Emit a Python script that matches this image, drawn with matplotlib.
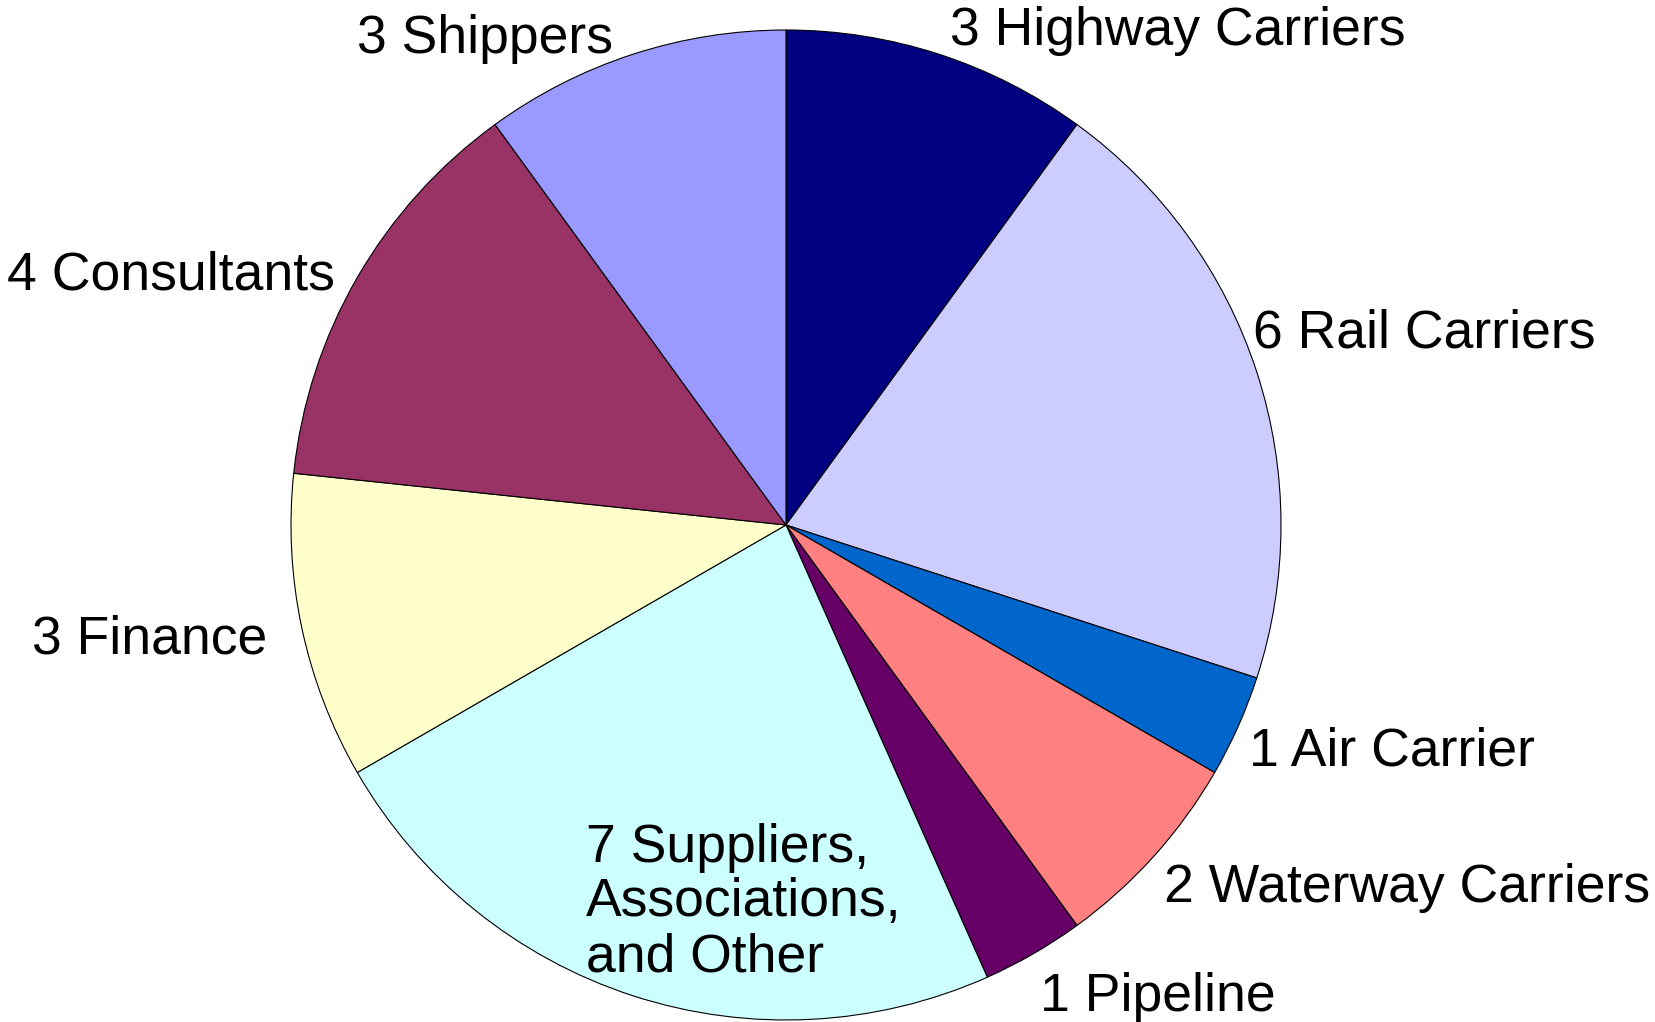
import matplotlib
matplotlib.use("Agg")
import matplotlib.pyplot as plt

labels = ["3 Highway Carriers", "6 Rail Carriers", "1 Air Carrier", "2 Waterway Carriers",
          "1 Pipeline", "7 Suppliers,\nAssociations,\nand Other", "3 Finance",
          "4 Consultants", "3 Shippers"]
values = [3, 6, 1, 2, 1, 7, 3, 4, 3]
colors = ["#000080", "#CCCCFF", "#0066CC", "#FF8080", "#660066", "#CCFFFF",
          "#FFFFCC", "#993366", "#9999FF"]
# label anchor (pixel x, pixel baseline y from top), horizontal alignment
label_pos = [(950, 45, "left"), (1253, 348, "left"), (1249, 765, "left"),
             (1164, 902, "left"), (1040, 1011, "left"), (586, 971, "left"),
             (267, 653, "right"), (335, 290, "right"), (613, 53, "right")]

W, H = 1655, 1022
cx, cy, R = 786, 525, 495

plt.rcParams['font.family'] = ['Liberation Sans', 'DejaVu Sans']
fig = plt.figure(figsize=(W / 100, H / 100), dpi=100)
ax = fig.add_axes([0, 0, 1, 1])
ax.pie(values, colors=colors, startangle=90, counterclock=False, radius=1,
       wedgeprops=dict(edgecolor="black", linewidth=0.8))
ax.set_xlim(-cx / R, (W - cx) / R)
ax.set_ylim(-(H - cy) / R, cy / R)
ax.set_aspect('auto')
ax.axis('off')

for lab, (px, py, ha) in zip(labels, label_pos):
    fig.text(px / W, 1 - py / H, lab, ha=ha, va='baseline', fontsize=38.5,
             linespacing=1.12, color='black')

fig.savefig("out.png", dpi=100, facecolor="white")
